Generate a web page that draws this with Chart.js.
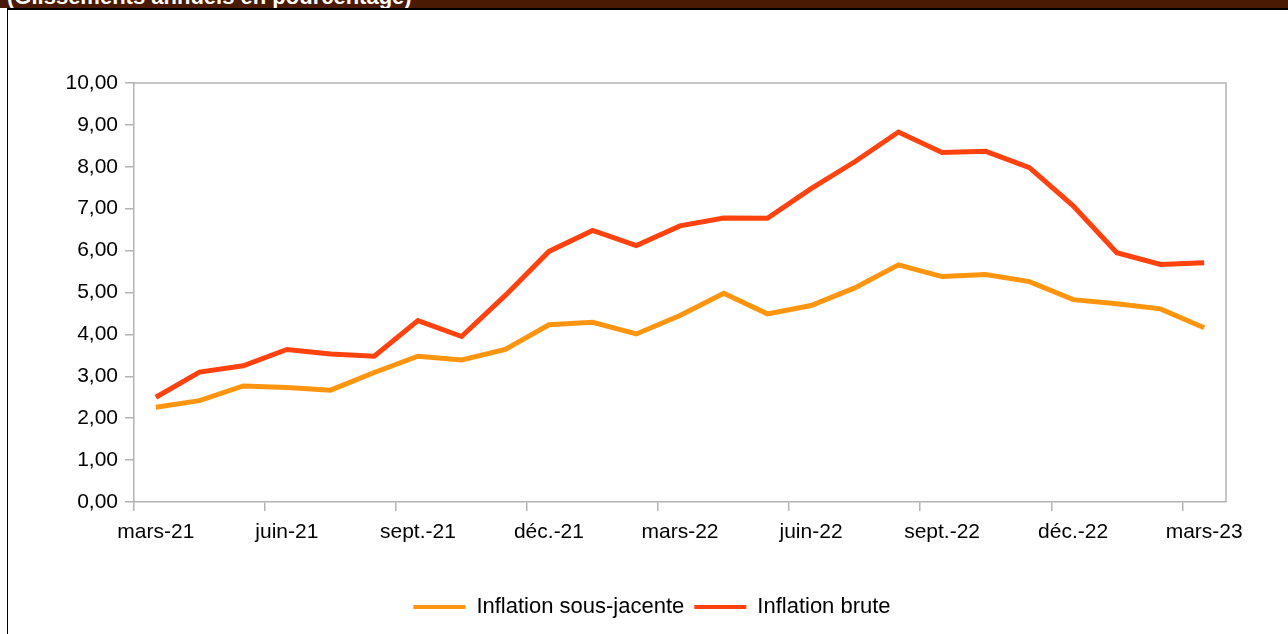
<!DOCTYPE html>
<html>
<head>
<meta charset="utf-8">
<script src="https://cdn.jsdelivr.net/npm/chart.js@4"></script>
<style>
  html, body { margin:0; padding:0; background:#fff; }
  body { width:1288px; height:634px; position:relative; overflow:hidden; font-family:"Liberation Sans", Arial, sans-serif; }
  #bar { position:absolute; left:0; top:0; width:1288px; height:8px; background:#4a1a02; overflow:hidden; }
  #bar span { position:absolute; left:7px; top:-16px; color:#fff; font:bold 22px "Liberation Sans", Arial, sans-serif; white-space:nowrap; }
  #frame { position:absolute; left:7px; top:8px; width:1300px; height:640px; border-left:1px solid #000; border-top:2px solid #000; }
  #wrap { position:absolute; left:8px; top:10px; width:1280px; height:624px; }
</style>
</head>
<body>
<div id="bar"><span>(Glissements annuels en pourcentage)</span></div>
<div id="frame"></div>
<div id="wrap"><canvas id="c" width="1280" height="624"></canvas></div>
<script>
const months = ['mars-21','avr.-21','mai-21','juin-21','juil.-21','août-21','sept.-21','oct.-21','nov.-21','déc.-21','janv.-22','févr.-22',
                'mars-22','avr.-22','mai-22','juin-22','juil.-22','août-22','sept.-22','oct.-22','nov.-22','déc.-22','janv.-23','févr.-23','mars-23'];
const sousJacente = [2.26,2.42,2.77,2.73,2.67,3.09,3.48,3.39,3.64,4.23,4.29,4.01,4.45,4.98,4.49,4.69,5.11,5.66,5.38,5.43,5.26,4.83,4.73,4.61,4.16];
const brute       = [2.50,3.10,3.25,3.64,3.53,3.48,4.33,3.95,4.93,5.98,6.48,6.12,6.59,6.78,6.77,7.48,8.12,8.83,8.34,8.37,7.98,7.07,5.95,5.67,5.71];
const seriesNames = ['Inflation sous-jacente','Inflation brute'];
const yTicks = [0,1,2,3,4,5,6,7,8,9,10];

const GREY = '#b3b3b3';
const FONT = '"Liberation Sans", Arial, sans-serif';
const frame = {
  id:'frame',
  afterLayout(chart){
    if (chart.legend) { chart.legend.left += 35; chart.legend.right += 35; }
  },
  afterDraw(chart){
    const a = chart.chartArea, ctx = chart.ctx;
    ctx.save();
    ctx.strokeStyle = GREY; ctx.lineWidth = 1.5;
    ctx.beginPath();
    ctx.moveTo(a.left, a.top); ctx.lineTo(a.right, a.top); ctx.lineTo(a.right, a.bottom);
    ctx.stroke();
    ctx.restore();
  }
};

new Chart(document.getElementById('c'), {
  type:'line',
  data:{
    labels: months,
    datasets:[
      {label:seriesNames[0], data:sousJacente, borderColor:'#ff950e', backgroundColor:'#ff950e', borderWidth:5, pointRadius:0, tension:0},
      {label:seriesNames[1], data:brute, borderColor:'#ff420e', backgroundColor:'#ff420e', borderWidth:5, pointRadius:0, tension:0}
    ]
  },
  options:{
    responsive:false, animation:false,
    layout:{padding:{top:73, right:62, left:0, bottom:6}},
    plugins:{
      tooltip:{enabled:false},
      legend:{
        position:'bottom',
        labels:{
          color:'#000', font:{family:FONT, size:22},
          boxWidth:52, boxHeight:4, padding:10,
          generateLabels(chart){
            return chart.data.datasets.map((d,i)=>({text:d.label, fillStyle:d.borderColor, strokeStyle:d.borderColor, lineWidth:0, datasetIndex:i, hidden:false}));
          }
        }
      }
    },
    scales:{
      x:{
        offset:true,
        grid:{offset:true, drawOnChartArea:false, tickLength:9, lineWidth:1.5,
              color:(ctx)=> (ctx.index % 3 === 0 ? GREY : 'rgba(0,0,0,0)')},
        border:{display:true, color:GREY, width:1.5},
        ticks:{autoSkip:false, maxRotation:0, minRotation:0, padding:9, color:'#000',
               font:{family:FONT, size:21},
               callback:(v,i)=> (i % 3 === 0 ? months[i] : '')},
        afterFit(s){ s.height = 84; }
      },
      y:{
        min:0, max:10,
        afterBuildTicks(s){ s.ticks = yTicks.map(v=>({value:v})); },
        grid:{drawOnChartArea:false, tickLength:9, color:GREY, lineWidth:1.5},
        border:{display:true, color:GREY, width:1.5},
        ticks:{padding:7, color:'#000', font:{family:FONT, size:21},
               callback:(v)=> Number(v).toFixed(2).replace('.',',')},
        afterFit(s){ s.width = 126; }
      }
    }
  },
  plugins:[frame]
});
</script>
</body>
</html>
